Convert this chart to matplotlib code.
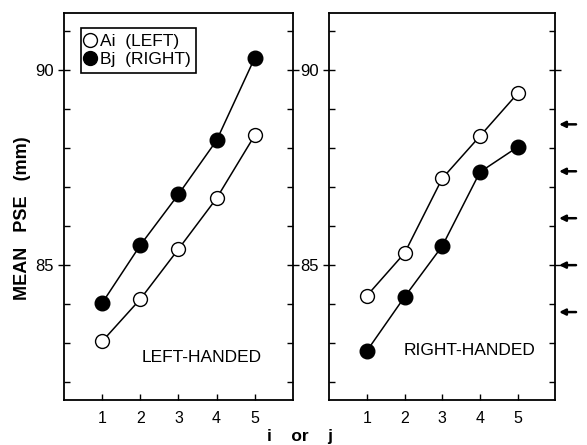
import matplotlib.pyplot as plt

plt.rcParams['font.family'] = ['Liberation Sans', 'DejaVu Sans']

positions = [1, 2, 3, 4, 5]

# left-handed group
left_a = [83.05, 84.13, 85.41, 86.71, 88.32]
left_b = [84.03, 85.51, 86.81, 88.19, 90.30]

# right-handed group
right_a = [84.22, 85.31, 87.22, 88.30, 89.39]
right_b = [82.81, 84.19, 85.49, 87.38, 88.02]

# arrows on the right edge
arrow_levels = [83.8, 85.0, 86.2, 87.4, 88.6]

y_major = [85, 90]
y_minor = [82, 83, 84, 86, 87, 88, 89, 91]

fig = plt.figure(figsize=(5.87, 4.45), dpi=100)
ax1 = fig.add_axes([0.109, 0.101, 0.390, 0.870])
ax2 = fig.add_axes([0.561, 0.101, 0.385, 0.870])


def style_panel(ax):
    ax.set_xlim(0, 6)
    ax.set_ylim(81.55, 91.45)
    ax.set_xticks(positions)
    ax.set_yticks(y_major)
    ax.set_yticks(y_minor, minor=True)
    ax.tick_params(axis='x', direction='in', length=4, width=1, labelsize=11.5, pad=8)
    ax.tick_params(axis='y', which='major', direction='inout', length=8, width=1,
                   labelsize=12, right=True)
    ax.tick_params(axis='y', which='minor', direction='in', length=4, width=1, right=True)
    for s in ax.spines.values():
        s.set_linewidth(1.3)


def draw_pair(ax, a, b):
    la, = ax.plot(positions, a, '-', color='black', lw=1.1, marker='o', ms=10,
                  mfc='white', mec='black', mew=1.0, zorder=3)
    lb, = ax.plot(positions, b, '-', color='black', lw=1.1, marker='o', ms=10.5,
                  mfc='black', mec='black', zorder=3)
    return la, lb


style_panel(ax1)
style_panel(ax2)

la, lb = draw_pair(ax1, left_a, left_b)
draw_pair(ax2, right_a, right_b)

leg = ax1.legend([la, lb], ['Ai  (LEFT)', 'Bj  (RIGHT)'], loc='upper left',
                 bbox_to_anchor=(0.075, 0.96), fancybox=False, framealpha=1,
                 edgecolor='black', handlelength=0.45, handletextpad=0.35,
                 borderpad=0.3, labelspacing=0.2, fontsize=12.5,
                 borderaxespad=0)
leg.get_frame().set_linewidth(1.2)
for h in leg.legend_handles:
    h.set_linestyle('none')
    h.set_markersize(10)

ax1.text(0.6, 0.11, 'LEFT-HANDED', transform=ax1.transAxes, ha='center',
         va='center', fontsize=12.5)
ax2.text(0.62, 0.128, 'RIGHT-HANDED', transform=ax2.transAxes, ha='center',
         va='center', fontsize=12.5)

for lvl in arrow_levels:
    ax2.annotate('', xy=(6.1, lvl), xytext=(6.55, lvl), xycoords='data',
                 annotation_clip=False,
                 arrowprops=dict(arrowstyle='-|>', color='black', lw=1.8,
                                 mutation_scale=9, shrinkA=0, shrinkB=0))

fig.text(0.038, 0.51, 'MEAN   PSE   (mm)', rotation=90, ha='center', va='center',
         fontsize=13, fontweight='bold')
fig.text(0.511, 0.018, 'i    or    j', ha='center', va='center', fontsize=12.5,
         fontweight='bold')

fig.savefig('out.png', dpi=100)
